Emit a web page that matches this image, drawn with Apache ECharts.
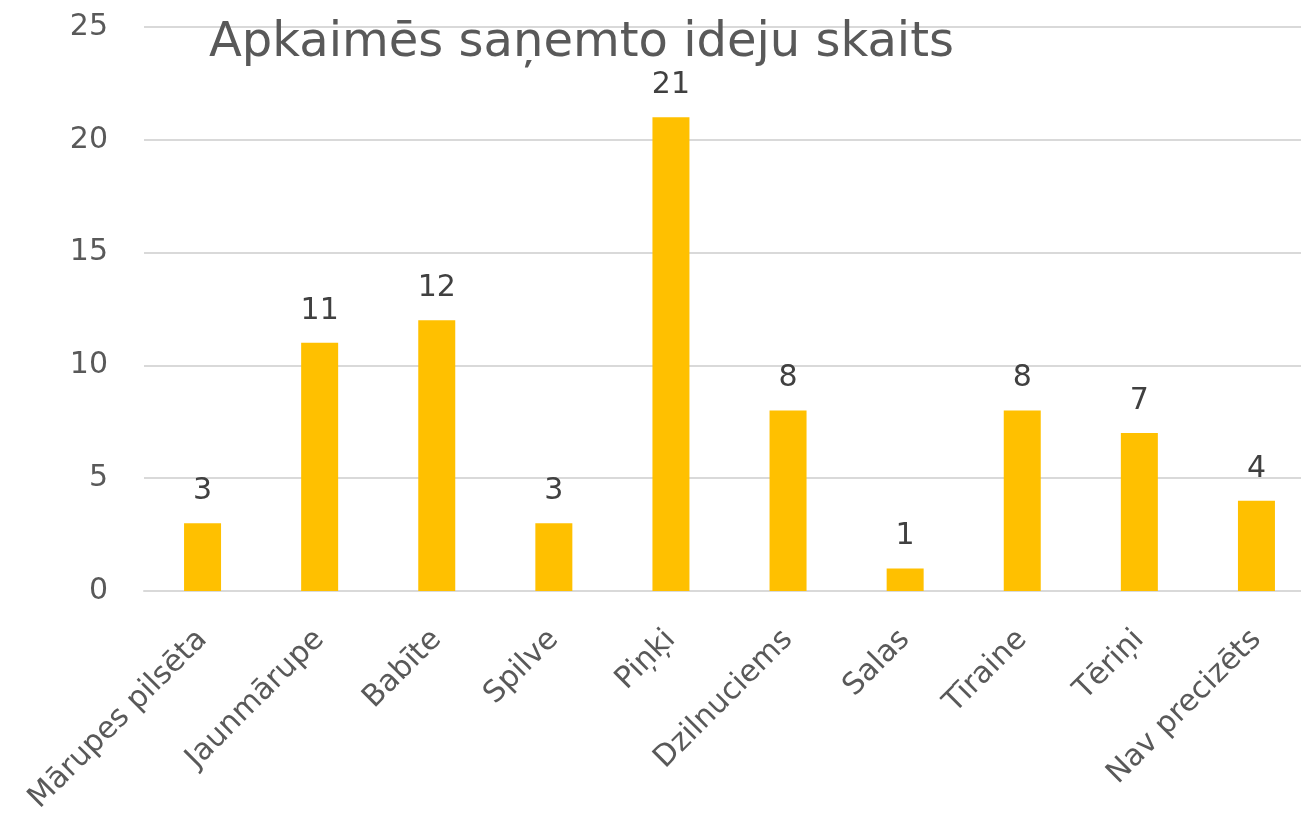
<!DOCTYPE html>
<html>
<head>
<meta charset="utf-8">
<script src="https://cdn.jsdelivr.net/npm/echarts@6/dist/echarts.min.js"></script>
<style>
html,body{margin:0;padding:0;background:#fff;overflow:hidden;width:1301px;height:821px;}
#c{width:1315px;height:821px;}
</style>
</head>
<body>
<div id="c"></div>
<script>
const titleText = 'Apkaimēs saņemto ideju skaits';
const categories = ['Mārupes pilsēta','Jaunmārupe','Babīte','Spilve','Piņķi','Dzilnuciems','Salas','Tīraine','Tēriņi','Nav precizēts'];
const values = [3, 11, 12, 3, 21, 8, 1, 8, 7, 4];
const yTicks = { min: 0, max: 25, interval: 5 };

const FONT = '"DejaVu Sans", sans-serif';
const chart = echarts.init(document.getElementById('c'), null, {renderer:'canvas'});
chart.setOption({
  backgroundColor: '#ffffff',
  animation: false,
  title: {
    text: titleText,
    left: 204, top: 15,
    textStyle: { fontFamily: FONT, fontSize: 48, fontWeight: 'normal', color: '#595959' }
  },
  grid: { left: 144, right: 0, top: 27, bottom: 230, containLabel: false },
  xAxis: {
    type: 'category',
    data: categories,
    axisLine: { show: true, lineStyle: { color: '#D9D9D9', width: 2 } },
    axisTick: { show: false },
    axisLabel: { rotate: 45, interval: 0, margin: 44, fontFamily: FONT, fontSize: 30, color: '#595959' }
  },
  yAxis: {
    type: 'value',
    min: yTicks.min, max: yTicks.max, interval: yTicks.interval,
    axisLine: { show: false },
    axisTick: { show: false },
    splitLine: { lineStyle: { color: '#D9D9D9', width: 2 } },
    axisLabel: { margin: 36, fontFamily: FONT, fontSize: 30, color: '#595959' }
  },
  series: [{
    type: 'bar',
    data: values,
    barWidth: 37,
    itemStyle: { color: '#FFC000' },
    label: { show: true, position: 'top', distance: 17, fontFamily: FONT, fontSize: 30, color: '#404040' }
  }]
});
</script>
</body>
</html>
